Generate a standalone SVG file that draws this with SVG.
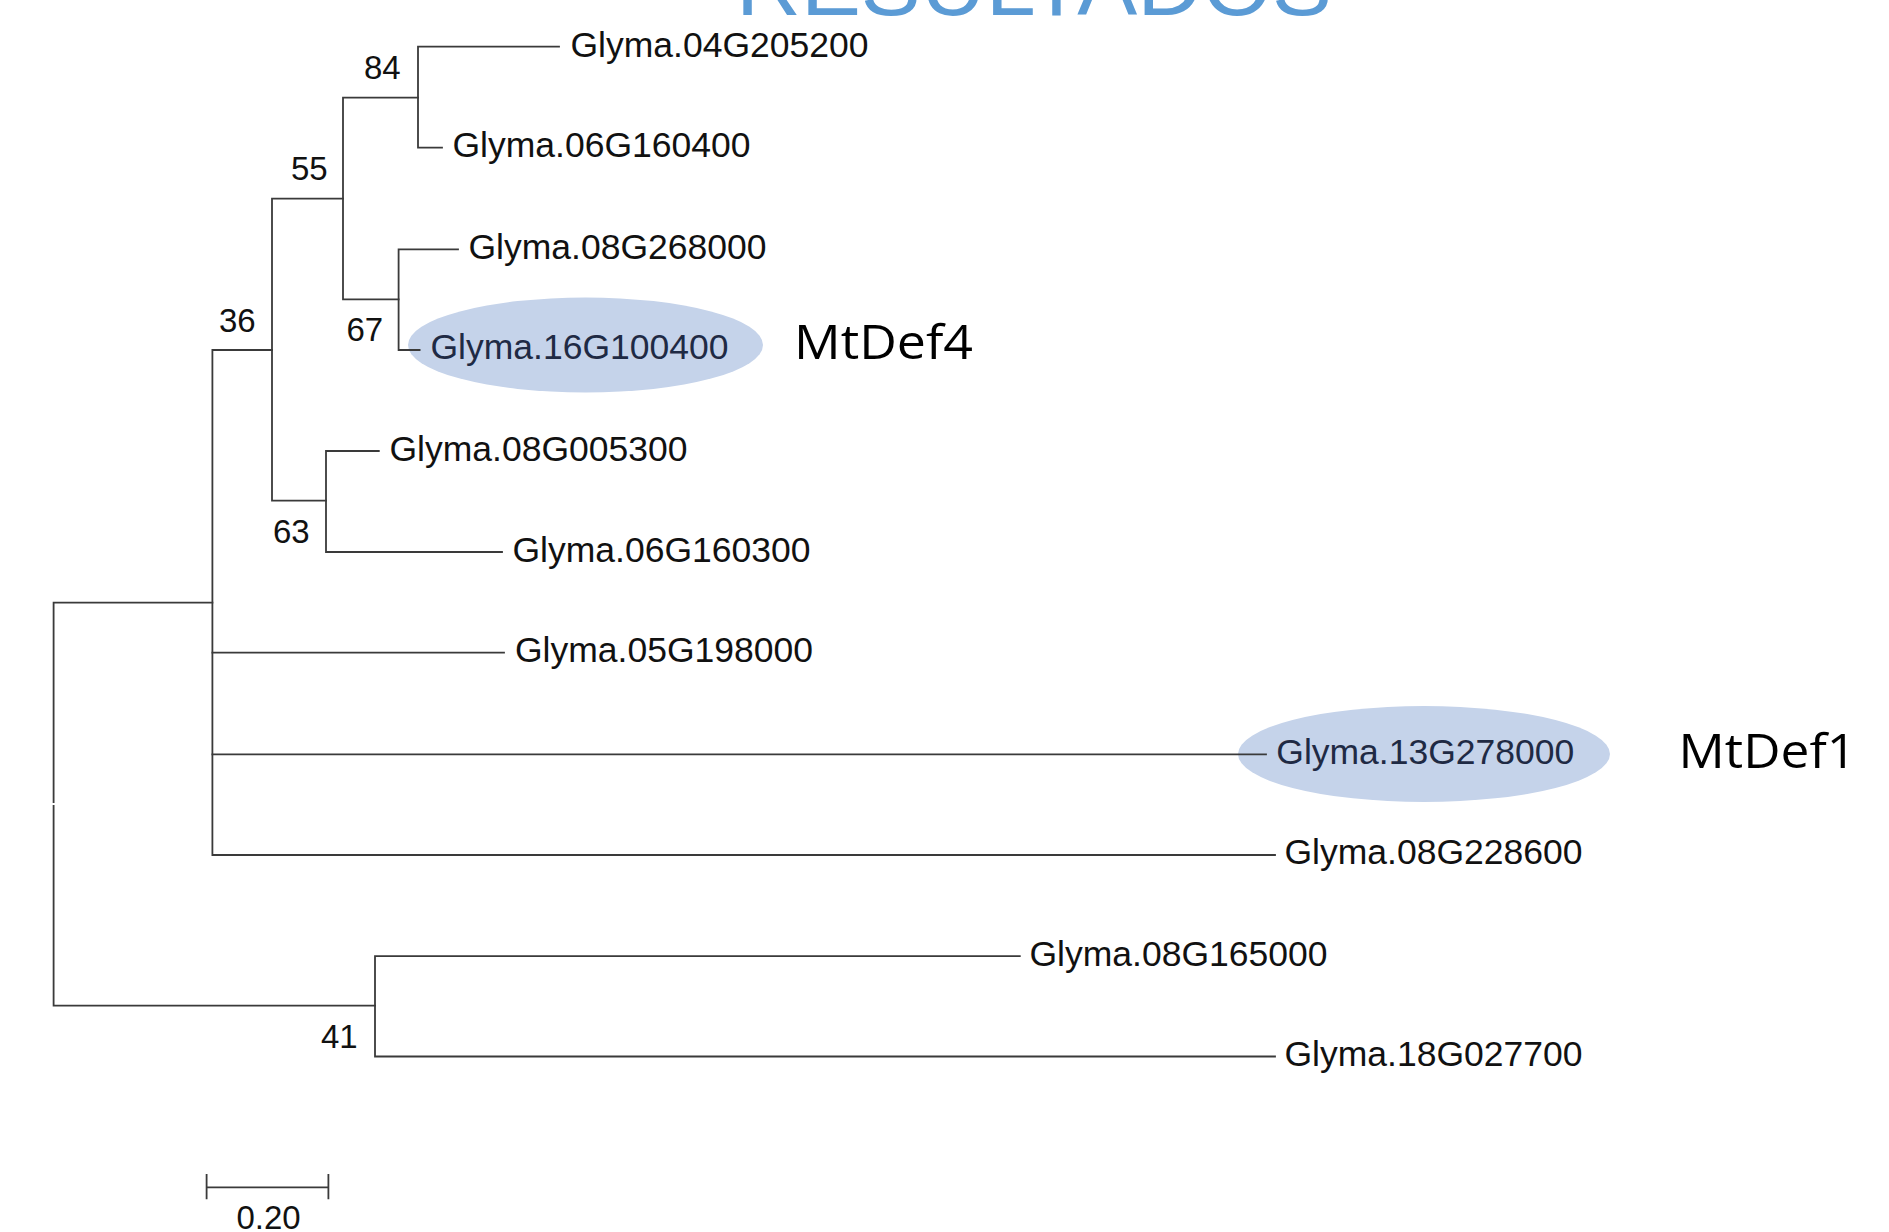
<svg xmlns="http://www.w3.org/2000/svg" width="1889" height="1232" viewBox="0 0 1889 1232">
<style>
.br{fill:none;stroke:#3a3a3a;stroke-width:1.8;stroke-linecap:square}
.lab{font-family:"Liberation Sans",Arial,sans-serif;font-size:35.5px;fill:#111}
.hl{fill:#1f2a44}
.bs{font-family:"Liberation Sans",Arial,sans-serif;font-size:33px;fill:#111}
.big{font-family:"Open Sans","Noto Sans",sans-serif;font-size:48px;fill:#000}
.ell{fill:#c5d3ea}
.title{font-family:"Liberation Sans",Arial,sans-serif;font-size:88px;fill:#5b9bd5}
</style>
<rect width="1889" height="1232" fill="#fff"/>
<text class="title" x="736" y="15" textLength="596" lengthAdjust="spacingAndGlyphs">RESULTADOS</text>
<g id="highlights">
<ellipse class="ell" cx="585.5" cy="345" rx="177.5" ry="47.5"/>
<ellipse class="ell" cx="1424" cy="754" rx="186" ry="48"/>
</g>
<g id="connectors">
<path class="br" d="M559,46.7 H418 V147.7 H442"/>
<path class="br" d="M418,97.7 H343 V299.3 H398.6"/>
<path class="br" d="M458,249.3 H398.6 V350 H419.6"/>
<path class="br" d="M343,198.7 H272 V500.7 H326"/>
<path class="br" d="M378.8,451 H326 V552 H502"/>
<path class="br" d="M272,350 H212.4 V855 H1275"/>
<path class="br" d="M212.4,652.7 H504"/>
<path class="br" d="M212.4,754.3 H1266"/>
<path class="br" d="M212.4,602.7 H53.6 V802"/>
<path class="br" d="M53.6,806 V1005.7 H375"/>
<path class="br" d="M1019.8,956.2 H375 V1056.5 H1275"/>
<path class="br" d="M206.6,1175 V1198.3 M206.6,1187.3 H328.4 M328.4,1175 V1198.3"/>
</g>
<g id="n-04G205200"><text class="lab" x="570.5" y="56.5">Glyma.04G205200</text></g>
<g id="n-06G160400"><text class="lab" x="452.5" y="157.3">Glyma.06G160400</text></g>
<g id="n-08G268000"><text class="lab" x="468.5" y="258.8">Glyma.08G268000</text></g>
<g id="n-16G100400"><text class="lab hl" x="430.5" y="359.3">Glyma.16G100400</text></g>
<g id="n-08G005300"><text class="lab" x="389.5" y="460.5">Glyma.08G005300</text></g>
<g id="n-06G160300"><text class="lab" x="512.5" y="561.5">Glyma.06G160300</text></g>
<g id="n-05G198000"><text class="lab" x="515" y="662.2">Glyma.05G198000</text></g>
<g id="n-13G278000"><text class="lab hl" x="1276.3" y="763.8">Glyma.13G278000</text></g>
<g id="n-08G228600"><text class="lab" x="1284.5" y="864">Glyma.08G228600</text></g>
<g id="n-08G165000"><text class="lab" x="1029.5" y="965.7">Glyma.08G165000</text></g>
<g id="n-18G027700"><text class="lab" x="1284.5" y="1066">Glyma.18G027700</text></g>
<g id="bootstrap">
<text class="bs" x="364" y="79">84</text>
<text class="bs" x="291" y="180">55</text>
<text class="bs" x="219" y="331.7">36</text>
<text class="bs" x="346.5" y="340.7">67</text>
<text class="bs" x="273" y="542.7">63</text>
<text class="bs" x="321" y="1048.3">41</text>
</g>
<g id="mtdef4"><text class="big" x="794" y="359.3" textLength="179" lengthAdjust="spacingAndGlyphs">MtDef4</text></g>
<g id="mtdef1"><text class="big" x="1678.6" y="768.3" textLength="177.5" lengthAdjust="spacingAndGlyphs">MtDef1</text></g>
<g id="scale"><text class="bs" x="268.5" y="1229" text-anchor="middle">0.20</text></g>
</svg>
